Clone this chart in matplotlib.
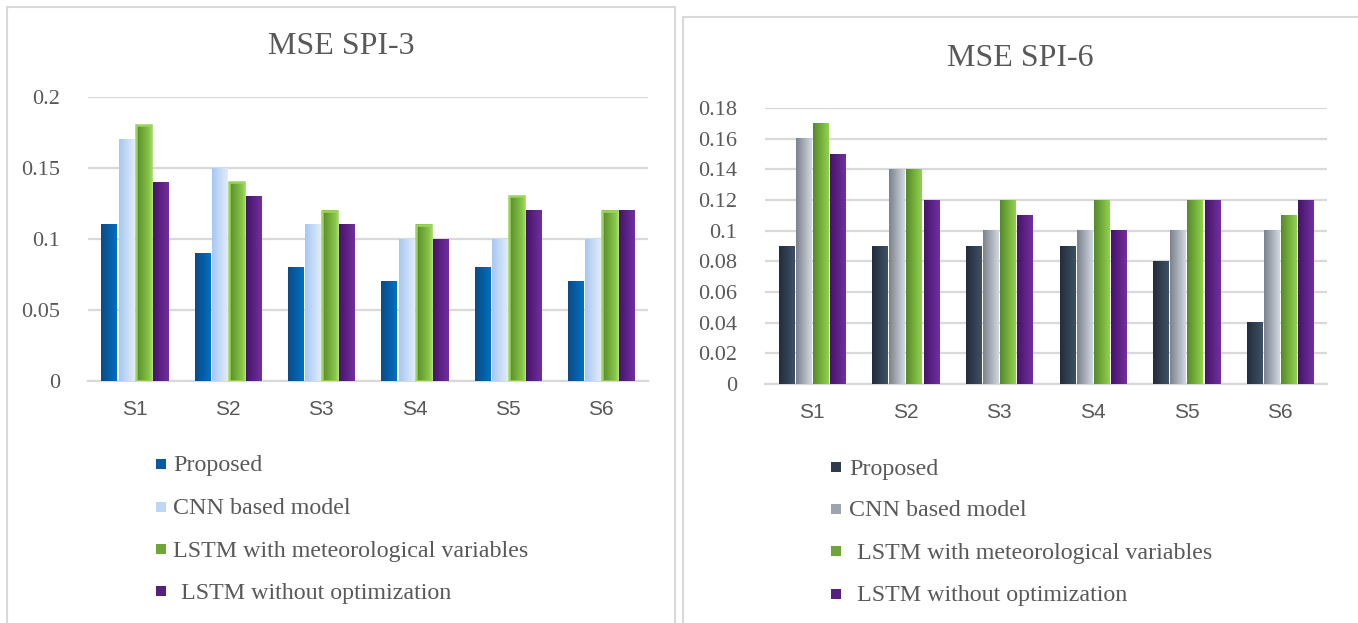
import numpy as np
import matplotlib
matplotlib.use("Agg")
import matplotlib.pyplot as plt
from matplotlib.patches import Rectangle
from matplotlib.colors import LinearSegmentedColormap

# Datos
estaciones = ["S1", "S2", "S3", "S4", "S5", "S6"]
modelos = ["Proposed", "CNN based model", "LSTM with meteorological variables", "LSTM without optimization"]

spi3_proposed = [0.11, 0.09, 0.08, 0.07, 0.08, 0.07]
spi3_cnn = [0.17, 0.15, 0.11, 0.10, 0.10, 0.10]
spi3_lstm_met = [0.18, 0.14, 0.12, 0.11, 0.13, 0.12]
spi3_lstm_noopt = [0.14, 0.13, 0.11, 0.10, 0.12, 0.12]

spi6_proposed = [0.09, 0.09, 0.09, 0.09, 0.08, 0.04]
spi6_cnn = [0.16, 0.14, 0.10, 0.10, 0.10, 0.10]
spi6_lstm_met = [0.17, 0.14, 0.12, 0.12, 0.12, 0.11]
spi6_lstm_noopt = [0.15, 0.12, 0.11, 0.10, 0.12, 0.12]

spi3_ticks = [0, 0.05, 0.1, 0.15, 0.2]
spi6_ticks = [0, 0.02, 0.04, 0.06, 0.08, 0.1, 0.12, 0.14, 0.16, 0.18]

# colores (oscuro -> claro, gradiente horizontal)
grad3 = [("#0b4b85", "#0070c4"), ("#a6c8f2", "#e2ecf9"), ("#558a2a", "#93d24e"), ("#471468", "#7030a0")]
grad6 = [("#222d3b", "#3f5166"), ("#7c828c", "#d2d8e0"), ("#558a2a", "#93d24e"), ("#471468", "#7030a0")]

gris = "#d9d9d9"
texto = "#595959"
serif = ["Liberation Serif", "DejaVu Serif"]

fig = plt.figure(figsize=(13.58, 6.23), dpi=100)

# marcos de cada grafico
fig.patches.append(Rectangle((7 / 1358, -0.01), 668 / 1358, 1 - 7 / 623 + 0.01,
                             transform=fig.transFigure, fill=False, edgecolor=gris, linewidth=1.5))
fig.patches.append(Rectangle((683 / 1358, -0.01), 700 / 1358, 1 - 17 / 623 + 0.01,
                             transform=fig.transFigure, fill=False, edgecolor=gris, linewidth=1.5))


def grafico(rect, series, grads, ticks, ymax, borde_verde):
    ax = fig.add_axes(rect)
    x = np.arange(len(estaciones))
    paso = 0.183
    ancho = 0.162
    for i, vals in enumerate(series):
        pos = x + (i - 1.5) * paso
        cmap = LinearSegmentedColormap.from_list("g%d" % i, grads[i])
        barras = ax.bar(pos, vals, width=ancho, color=grads[i][1], zorder=2)
        for b in barras:
            bx, by = b.get_x(), b.get_y()
            bw, bh = b.get_width(), b.get_height()
            ax.imshow(np.linspace(0, 1, 50).reshape(1, -1), cmap=cmap, aspect="auto",
                      extent=[bx, bx + bw, by, by + bh], zorder=3, interpolation="bilinear")
            if borde_verde and i == 2:
                ax.add_patch(Rectangle((bx, by), bw, bh, fill=False, edgecolor="#9ad45c",
                                       linewidth=1.8, zorder=4))
    ax.set_xlim(-0.5, 5.5)
    ax.set_ylim(0, ymax)
    ax.set_yticks(ticks)
    ax.set_yticklabels([f"{v:g}" for v in ticks], fontfamily=serif, fontsize=16, color=texto)
    ax.set_xticks(x)
    ax.set_xticklabels(estaciones, fontfamily="Liberation Sans", fontsize=15, color=texto)
    ax.tick_params(axis="both", length=0)
    ax.tick_params(axis="y", pad=20)
    ax.tick_params(axis="x", pad=14)
    ax.grid(axis="y", color=gris, linewidth=1.6, zorder=0)
    ax.set_axisbelow(True)
    for s in ["top", "right", "left"]:
        ax.spines[s].set_visible(False)
    ax.spines["bottom"].set_color(gris)
    ax.spines["bottom"].set_linewidth(1.6)
    return ax


grafico([88 / 1358, 242 / 623, 560 / 1358, 284 / 623],
        [spi3_proposed, spi3_cnn, spi3_lstm_met, spi3_lstm_noopt],
        grad3, spi3_ticks, 0.2, True)
grafico([765 / 1358, 239 / 623, 562 / 1358, 276 / 623],
        [spi6_proposed, spi6_cnn, spi6_lstm_met, spi6_lstm_noopt],
        grad6, spi6_ticks, 0.18, False)

# titulos centrados en cada marco
fig.text(341 / 1358, 1 - 47 / 623, "MSE SPI-3", fontfamily=serif, fontsize=23,
         color=texto, ha="center", va="center")
fig.text(1020 / 1358, 1 - 59 / 623, "MSE SPI-6", fontfamily=serif, fontsize=23,
         color=texto, ha="center", va="center")


# leyendas
def leyenda(x_cuad, x_txt, filas, grads, extra):
    for i, nombre in enumerate(modelos):
        yc = 1 - filas[i] / 623
        col = LinearSegmentedColormap.from_list("l%d" % i, grads[i])(0.4)
        fig.patches.append(Rectangle((x_cuad / 1358, yc - 5 / 623), 10 / 1358, 10 / 623,
                                     transform=fig.transFigure, facecolor=col,
                                     edgecolor="none"))
        fig.text((x_txt + extra[i]) / 1358, yc - 2 / 623, nombre, fontfamily=serif,
                 fontsize=17.3, color=texto, va="center", ha="left")


leyenda(156, 173, [464, 507, 549, 591], grad3, [0, 0, 0, 8])
leyenda(831, 849, [467, 509, 551, 594], grad6, [0, 0, 8, 8])

plt.savefig("out.png", dpi=100)
